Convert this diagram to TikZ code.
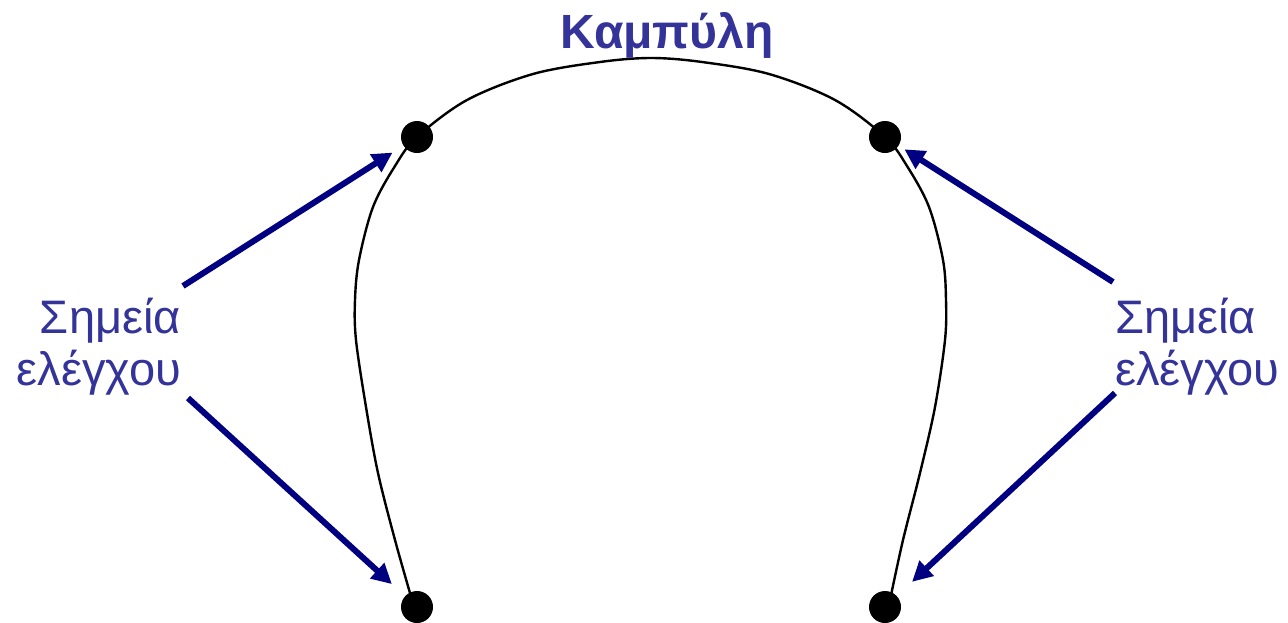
\documentclass[tikz,border=0pt]{standalone}
\usepackage{fontspec}
\setmainfont{Liberation Sans}
\usetikzlibrary{arrows.meta}
\definecolor{txtblue}{RGB}{51,51,153}
\definecolor{arrblue}{RGB}{0,0,128}
\tikzset{
  ctrlpt/.style={circle, fill=black, minimum size=32pt, inner sep=0pt},
  lbl/.style={text=txtblue, inner sep=0pt, font=\fontsize{47}{52}\selectfont},
  pointer/.style={draw=arrblue, line width=6pt, -{Triangle[length=20pt,width=20pt]}},
  curveline/.style={line width=2.4pt, black}
}
\begin{document}
\begin{tikzpicture}[x=1pt,y=-1pt]
\useasboundingbox (0,0) rectangle (1288,622);
% curve
\draw[curveline] plot[smooth, tension=0.55] coordinates {
 (412,600) (395,540) (378,473) (366,407) (356,340) (355,300) (359,260) (373,207) (395,166) (417,137)
 (467,100) (533,74) (600,62) (651,58) (702,62) (769,74) (835,100) (885,137)
 (907,166) (929,207) (943,260) (946,300) (945,340) (935,407) (920,473) (903,540) (890,600)};
% control points
\node[ctrlpt] (tl) at (417,137) {};
\node[ctrlpt] (tr) at (885,137) {};
\node[ctrlpt] (bl) at (417,607) {};
\node[ctrlpt] (br) at (885,607) {};
% texts
\node[text=txtblue, inner sep=0pt, font=\fontsize{48}{52}\selectfont\bfseries, anchor=base] (title) at (667,48) {Καμπύλη};
\node[lbl, align=right, anchor=base east] (left) at (181,385) {Σημεία\\ελέγχου};
\node[lbl, align=left, anchor=base west] (right) at (1115,385) {Σημεία\\ελέγχου};
% arrows
\coordinate (a1) at (183,286);
\coordinate (a2) at (188,398);
\coordinate (a3) at (1113,282);
\coordinate (a4) at (1115,393);
\draw[pointer, shorten >=29pt] (a1) -- (tl.center);
\draw[pointer, shorten >=34pt] (a2) -- (bl.center);
\draw[pointer, shorten >=23pt] (a3) -- (tr.center);
\draw[pointer, shorten >=37pt] (a4) -- (br.center);
\end{tikzpicture}
\end{document}
